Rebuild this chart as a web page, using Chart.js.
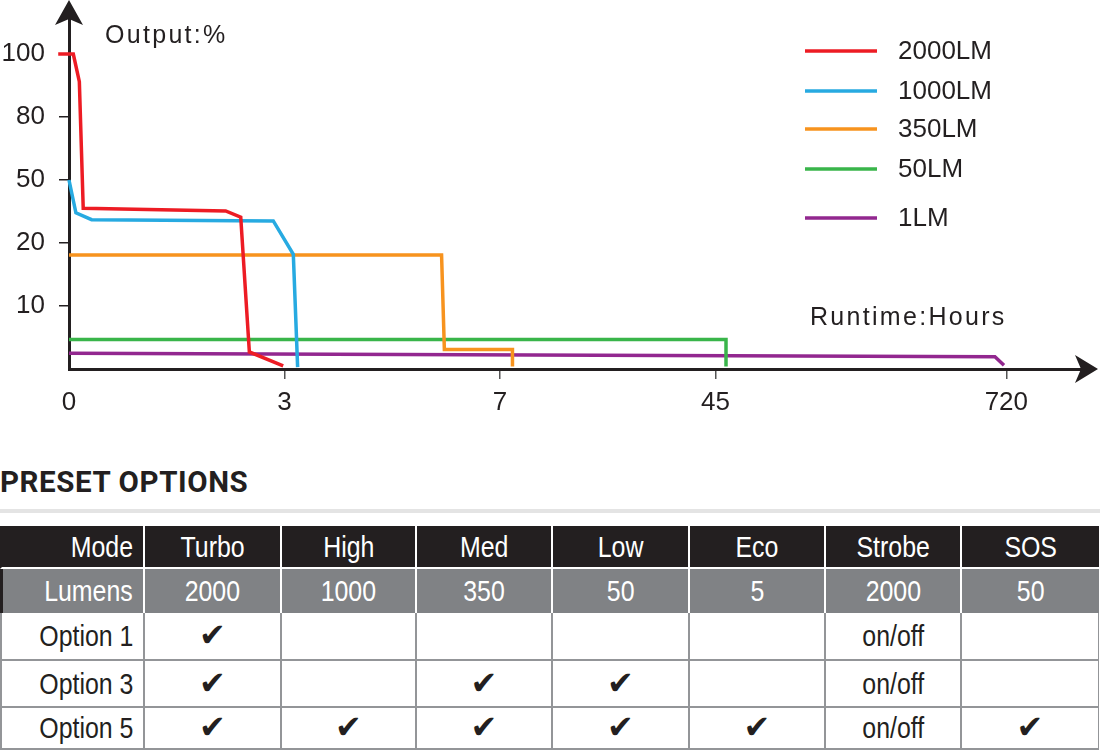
<!DOCTYPE html>
<html lang="en">
<head>
<meta charset="UTF-8">
<title>Runtime chart</title>
<style>
    body {
        margin: 0;
        background: #fff;
        font-family: "Liberation Sans", Arial, sans-serif;
        color: #231f20;
    }
    #page {
        position: relative;
        width: 1100px;
        height: 753px;
        overflow: hidden;
    }
    #chartbox {
        position: absolute;
        left: 0;
        top: 0;
        width: 1100px;
        height: 440px;
    }
    #heading {
        position: absolute;
        left: 0;
        top: 468px;
        margin: 0;
        font-family: Roboto, sans-serif;
        font-weight: 700;
        font-size: 29.5px;
        line-height: 1;
        letter-spacing: 0.6px;
        color: #231f20;
    }
    #rule {
        position: absolute;
        left: 0;
        top: 509px;
        width: 1100px;
        height: 4px;
        background: #e4e4e4;
    }
    #presets {
        position: absolute;
        left: 0;
        top: 526px;
        border-collapse: separate;
        border-spacing: 0;
        table-layout: fixed;
        font-family: "Liberation Sans", Arial, sans-serif;
        font-size: 30px;
    }
    #presets td {
        box-sizing: border-box;
        padding: 0;
        text-align: center;
        vertical-align: middle;
        white-space: nowrap;
        border-right: 2px solid #939598;
        border-bottom: 2px solid #939598;
    }
    #presets td:first-child {
        text-align: right;
        padding-right: 10px;
        border-left: 2px solid #939598;
    }
    #presets td span.txt {
        display: inline-block;
        transform: scaleX(0.83);
        transform-origin: center;
    }
    #presets td:first-child span.txt { transform-origin: right center; }
    #presets tr.mode td {
        background: #231f20;
        color: #fff;
        border-right-color: #fff;
        border-bottom-color: #fff;
        border-left-color: #231f20;
    }
    #presets tr.lum td {
        background: #808285;
        color: #fff;
        border-right-color: #fff;
        border-bottom: none;
        border-left: 3px solid #231f20;
    }
    #presets tr.lum td + td { border-left: none; }
    #presets tr.mode td + td { border-left: none; }
    #presets tr td:last-child { border-right: 1px solid #939598; }
    #presets tr.mode td:last-child, #presets tr.lum td:last-child { border-right: none; }
    .check {
        font-family: "DejaVu Sans", sans-serif;
        font-size: 32px;
        line-height: 1;
        color: #231f20;
    }
</style>
</head>
<body>
<div id="page">
    <div id="chartbox"><canvas id="runtime-chart"></canvas></div>
    <h2 id="heading">PRESET OPTIONS</h2>
    <div id="rule"></div>
    <table id="presets"></table>
</div>
<script src="https://cdn.jsdelivr.net/npm/chart.js"></script>
<script>
    // x is drawn as the position along the tick row (0, 3, 7, 45, 720 hours),
    // y as the position along the output ticks (10, 20, 50, 80, 100 %)
    const xTickPos = [0, 1, 2, 3, 4.35];
    const xTickLabels = ['0', '3', '7', '45', '720'];
    const yTickPos = [1, 2, 3, 4, 5];
    const yTickLabels = ['10', '20', '50', '80', '100'];

    const seriesNames = ['2000LM', '1000LM', '350LM', '50LM', '1LM'];
    const seriesColors = ['#ed1c24', '#27aae1', '#f7931e', '#39b54a', '#92278f'];

    const lm2000X = [-0.05, 0.02, 0.048, 0.066, 0.727, 0.797, 0.837, 0.994];
    const lm2000Y = [5.0, 5.0, 4.56, 2.55, 2.51, 2.41, 0.27, 0.05];
    const lm1000X = [0, 0.032, 0.105, 0.948, 1.041, 1.061];
    const lm1000Y = [3.0, 2.48, 2.37, 2.35, 1.82, 0.03];
    const lm350X = [0, 1.729, 1.742, 2.058, 2.058];
    const lm350Y = [1.81, 1.81, 0.31, 0.31, 0.04];
    const lm50X = [0, 3.049, 3.049];
    const lm50Y = [0.47, 0.47, 0.04];
    const lm1X = [0, 4.297, 4.339];
    const lm1Y = [0.25, 0.195, 0.06];

    // preset table
    const modes = ['Turbo', 'High', 'Med', 'Low', 'Eco', 'Strobe', 'SOS'];
    const lumens = ['2000', '1000', '350', '50', '5', '2000', '50'];
    const optionNames = ['Option 1', 'Option 3', 'Option 5'];
    const option1 = ['x', '', '', '', '', 'on/off', ''];
    const option3 = ['x', '', 'x', 'x', '', 'on/off', ''];
    const option5 = ['x', 'x', 'x', 'x', 'x', 'on/off', 'x'];

    const colWidths = [145, 137, 135, 136, 137, 136, 136, 137];
    const rowHeights = [43, 44, 48, 47, 42];

    function pts(xs, ys) {
        return xs.map((x, i) => ({ x: x, y: ys[i] }));
    }

    const allSeries = [
        pts(lm2000X, lm2000Y),
        pts(lm1000X, lm1000Y),
        pts(lm350X, lm350Y),
        pts(lm50X, lm50Y),
        pts(lm1X, lm1Y)
    ];

    const ink = '#231f20';
    const labelFont = { family: '"Liberation Sans", Arial, sans-serif', size: 26 };

    // arrows, axis captions and the legend
    const decorations = {
        id: 'decorations',
        afterDraw(chart) {
            const ctx = chart.ctx;
            const area = chart.chartArea;
            ctx.save();
            ctx.fillStyle = ink;

            // up arrow
            const ax = area.left;
            ctx.fillRect(ax - 1.5, 10, 3, area.top - 8);
            ctx.beginPath();
            ctx.moveTo(ax, 0);
            ctx.lineTo(ax - 14, 25);
            ctx.lineTo(ax, 19);
            ctx.lineTo(ax + 14, 25);
            ctx.closePath();
            ctx.fill();

            // right arrow
            const ay = area.bottom;
            ctx.fillRect(area.right - 2, ay - 1.5, 10, 3);
            ctx.beginPath();
            ctx.moveTo(1098, ay);
            ctx.lineTo(1075, ay - 14);
            ctx.lineTo(1081, ay);
            ctx.lineTo(1075, ay + 14);
            ctx.closePath();
            ctx.fill();

            ctx.font = '25px "Liberation Sans", Arial, sans-serif';
            ctx.textBaseline = 'alphabetic';
            ctx.textAlign = 'left';
            if ('letterSpacing' in ctx) ctx.letterSpacing = '2.3px';
            ctx.fillText('Output:%', 105, 43);
            ctx.fillText('Runtime:Hours', 810, 325);
            if ('letterSpacing' in ctx) ctx.letterSpacing = '0px';

            // legend
            const rowsY = [51, 91, 129, 169, 218];
            ctx.font = '26px "Liberation Sans", Arial, sans-serif';
            ctx.textBaseline = 'middle';
            chart.data.datasets.forEach((ds, i) => {
                ctx.strokeStyle = ds.borderColor;
                ctx.lineWidth = 3.5;
                ctx.beginPath();
                ctx.moveTo(805, rowsY[i]);
                ctx.lineTo(877, rowsY[i]);
                ctx.stroke();
                ctx.fillStyle = ink;
                ctx.fillText(ds.label, 898, rowsY[i] + 1);
            });
            ctx.restore();
        }
    };

    new Chart(document.getElementById('runtime-chart'), {
        type: 'line',
        data: {
            datasets: allSeries.map((data, i) => ({
                label: seriesNames[i],
                data: data,
                borderColor: seriesColors[i],
                backgroundColor: seriesColors[i],
                borderWidth: 3.5,
                pointRadius: 0,
                tension: 0,
                fill: false,
                clip: false
            }))
        },
        options: {
            responsive: true,
            maintainAspectRatio: false,
            animation: false,
            layout: { padding: { top: 12, right: 15, left: 0, bottom: 0 } },
            plugins: {
                legend: { display: false },
                tooltip: { enabled: false }
            },
            scales: {
                x: {
                    type: 'linear',
                    min: 0,
                    max: 4.715,
                    afterBuildTicks: (scale) => {
                        scale.ticks = xTickPos.map(v => ({ value: v }));
                    },
                    afterFit: (scale) => {
                        scale.height = 71;
                        scale.paddingLeft = 0;
                        scale.paddingRight = 0;
                    },
                    ticks: {
                        color: ink,
                        font: labelFont,
                        padding: 8,
                        maxRotation: 0,
                        autoSkip: false,
                        callback: (value) => xTickLabels[xTickPos.indexOf(value)]
                    },
                    grid: {
                        drawOnChartArea: false,
                        drawTicks: true,
                        tickLength: 10,
                        lineWidth: 1.5,
                        color: (c) => (c.tick && c.tick.value === 0) ? 'rgba(0,0,0,0)' : '#555'
                    },
                    border: { display: true, color: ink, width: 3 }
                },
                y: {
                    type: 'linear',
                    min: 0,
                    max: 5.667,
                    afterBuildTicks: (scale) => {
                        scale.ticks = yTickPos.map(v => ({ value: v }));
                    },
                    afterFit: (scale) => {
                        scale.width = 69;
                        scale.paddingTop = 0;
                        scale.paddingBottom = 0;
                    },
                    ticks: {
                        color: ink,
                        font: labelFont,
                        padding: 14,
                        autoSkip: false,
                        callback: (value) => yTickLabels[yTickPos.indexOf(value)]
                    },
                    grid: {
                        drawOnChartArea: false,
                        drawTicks: true,
                        tickLength: 10,
                        lineWidth: 1.5,
                        color: ink
                    },
                    border: { display: true, color: ink, width: 3 }
                }
            }
        },
        plugins: [decorations]
    });

    // build the preset table
    const table = document.getElementById('presets');
    const colgroup = document.createElement('colgroup');
    colWidths.forEach(w => {
        const col = document.createElement('col');
        col.style.width = w + 'px';
        colgroup.appendChild(col);
    });
    table.appendChild(colgroup);
    table.style.width = colWidths.reduce((a, b) => a + b, 0) + 'px';

    function addRow(cls, first, cells, h) {
        const tr = document.createElement('tr');
        if (cls) tr.className = cls;
        tr.style.height = h + 'px';
        [first].concat(cells).forEach(text => {
            const td = document.createElement('td');
            td.style.height = h + 'px';
            if (text === 'x') {
                td.innerHTML = '<span class="check">\u2714</span>';
            } else if (text) {
                const span = document.createElement('span');
                span.className = 'txt';
                span.textContent = text;
                td.appendChild(span);
            }
            tr.appendChild(td);
        });
        table.appendChild(tr);
    }

    addRow('mode', 'Mode', modes, rowHeights[0]);
    addRow('lum', 'Lumens', lumens, rowHeights[1]);
    addRow('', optionNames[0], option1, rowHeights[2]);
    addRow('', optionNames[1], option3, rowHeights[3]);
    addRow('', optionNames[2], option5, rowHeights[4]);
</script>
</body>
</html>
